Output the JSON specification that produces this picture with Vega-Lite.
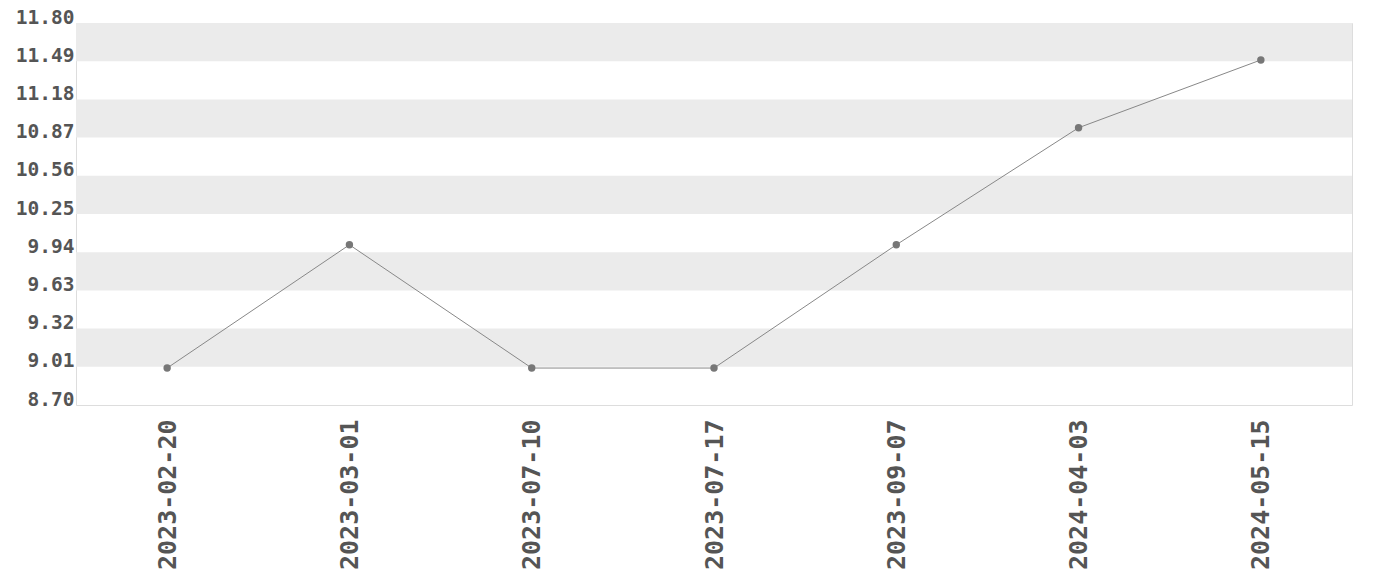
{
  "$schema": "https://vega.github.io/schema/vega-lite/v6.json",
  "width": 1276,
  "height": 382,
  "autosize": {"type": "none"},
  "padding": {"left": 76, "top": 23, "right": 28, "bottom": 175},
  "config": {
    "view": {"stroke": "#dddddd", "strokeWidth": 1},
    "axis": {"labelFont": "DejaVu Sans Mono", "labelFontWeight": "bold", "labelColor": "#555555", "grid": false, "ticks": false, "domain": false, "title": null, "labelOverlap": false, "labelBound": false, "labelFlush": false}
  },
  "datasets": {
    "bands": [
      {"lo": 9.01, "hi": 9.32},
      {"lo": 9.63, "hi": 9.94},
      {"lo": 10.25, "hi": 10.56},
      {"lo": 10.87, "hi": 11.18},
      {"lo": 11.49, "hi": 11.80}
    ],
    "series": [
      {"date": "2023-02-20", "value": 9.0},
      {"date": "2023-03-01", "value": 10.0},
      {"date": "2023-07-10", "value": 9.0},
      {"date": "2023-07-17", "value": 9.0},
      {"date": "2023-09-07", "value": 10.0},
      {"date": "2024-04-03", "value": 10.95},
      {"date": "2024-05-15", "value": 11.5}
    ]
  },
  "layer": [
    {
      "data": {"name": "bands"},
      "mark": {"type": "rect", "color": "#ebebeb"},
      "encoding": {
        "y": {"field": "lo", "type": "quantitative", "scale": {"domain": [8.7, 11.8], "nice": false, "zero": false},
          "axis": {"values": [8.70, 9.01, 9.32, 9.63, 9.94, 10.25, 10.56, 10.87, 11.18, 11.49, 11.80], "format": ".2f", "labelFontSize": 19.5, "labelPadding": 2, "labelBaseline": "alphabetic", "labelOverlap": false}},
        "y2": {"field": "hi"}
      }
    },
    {
      "data": {"name": "series"},
      "mark": {"type": "line", "color": "#888888", "strokeWidth": 1},
      "encoding": {
        "x": {"field": "date", "type": "ordinal", "sort": null, "scale": {"type": "point", "padding": 0.5},
          "axis": {"labelAngle": -90, "labelFontSize": 25, "labelPadding": 14, "labelAlign": "right", "labelBaseline": "middle"}},
        "y": {"field": "value", "type": "quantitative",
          "axis": {"values": [8.70, 9.01, 9.32, 9.63, 9.94, 10.25, 10.56, 10.87, 11.18, 11.49, 11.80], "format": ".2f", "labelFontSize": 19.5, "labelPadding": 2, "labelBaseline": "alphabetic", "labelOverlap": false}}
      }
    },
    {
      "data": {"name": "series"},
      "mark": {"type": "point", "filled": true, "color": "#777777", "opacity": 1, "size": 55},
      "encoding": {
        "x": {"field": "date", "type": "ordinal", "sort": null, "scale": {"type": "point", "padding": 0.5}},
        "y": {"field": "value", "type": "quantitative",
          "axis": {"values": [8.70, 9.01, 9.32, 9.63, 9.94, 10.25, 10.56, 10.87, 11.18, 11.49, 11.80], "format": ".2f", "labelFontSize": 19.5, "labelPadding": 2, "labelBaseline": "alphabetic", "labelOverlap": false}}
      }
    }
  ]
}
